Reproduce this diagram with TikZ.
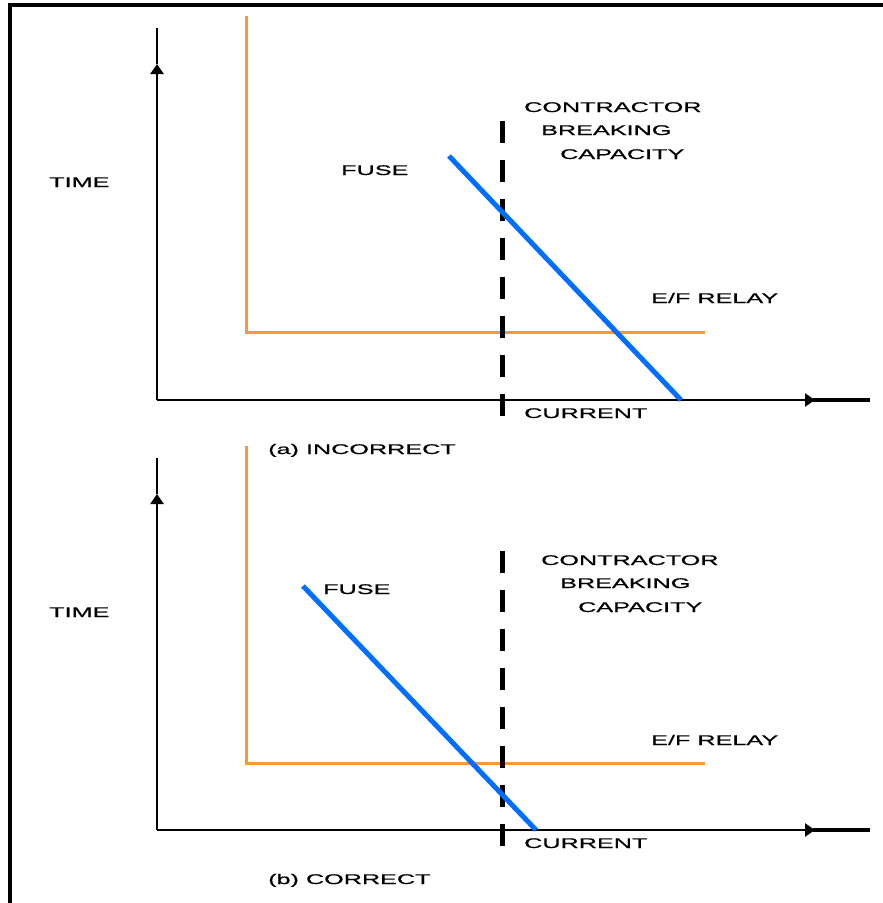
\documentclass[tikz,border=0pt]{standalone}
\usepackage{fontspec}
\setmainfont[FakeStretch=1.8,FakeBold=0.6]{Liberation Sans}
\usetikzlibrary{arrows.meta}
\definecolor{relayorange}{RGB}{250,152,52}
\definecolor{fuseblue}{RGB}{0,110,255}
\tikzset{
  axis/.style={line width=2.8pt, black},
  axarrow/.style={line width=2.8pt, black, -{Triangle[length=10pt,width=13pt]}},
  relay/.style={line width=3pt, relayorange},
  fuse/.style={line width=5pt, fuseblue},
  breaking/.style={line width=5pt, black, dash pattern=on 22pt off 17pt},
  lbl/.style={anchor=base west, inner sep=0pt, font=\fontsize{14pt}{16pt}\selectfont},
}
\begin{document}
\begin{tikzpicture}[x=1pt,y=-1pt]
\useasboundingbox (0,0) rectangle (883,903);
% frame
\draw[line width=3.2pt] (10,903) -- (10,5) -- (883,5);

% ===== (a) incorrect =====
\draw[relay] (246,16) -- (246,332) -- (705,332);
\draw[axarrow] (157,400) -- (157,64);
\draw[axis] (157,64) -- (157,28);
\draw[axarrow] (157,400) -- (815,400);
\draw[line width=4pt] (813,400) -- (870,400);
\draw[breaking] (502,121) -- (502,422);
\draw[fuse] (449,156) -- (681,400);
\node[lbl] (timea) at (49,187) {TIME};
\node[lbl] (fusea) at (341,175) {FUSE};
\node[lbl] (ca1) at (524,112) {CONTRACTOR};
\node[lbl] (ca2) at (541,135) {BREAKING};
\node[lbl] (ca3) at (560,159) {CAPACITY};
\node[lbl] (efa) at (651,303) {E/F RELAY};
\node[lbl] (cura) at (524,418) {CURRENT};
\node[lbl] (capa) at (268,454) {(a) INCORRECT};

% ===== (b) correct =====
\draw[relay] (246,446) -- (246,763) -- (705,763);
\draw[axarrow] (157,830) -- (157,494);
\draw[axis] (157,494) -- (157,458);
\draw[axarrow] (157,830) -- (815,830);
\draw[line width=4pt] (813,830) -- (870,830);
\draw[breaking] (502,551) -- (502,852);
\draw[fuse] (303,586) -- (536,830);
\node[lbl] (timeb) at (49,617) {TIME};
\node[lbl] (fuseb) at (323,594) {FUSE};
\node[lbl] (cb1) at (541,565) {CONTRACTOR};
\node[lbl] (cb2) at (560,588) {BREAKING};
\node[lbl] (cb3) at (578,612) {CAPACITY};
\node[lbl] (efb) at (651,745) {E/F RELAY};
\node[lbl] (curb) at (524,848) {CURRENT};
\node[lbl] (capb) at (268,884) {(b) CORRECT};
\end{tikzpicture}
\end{document}
